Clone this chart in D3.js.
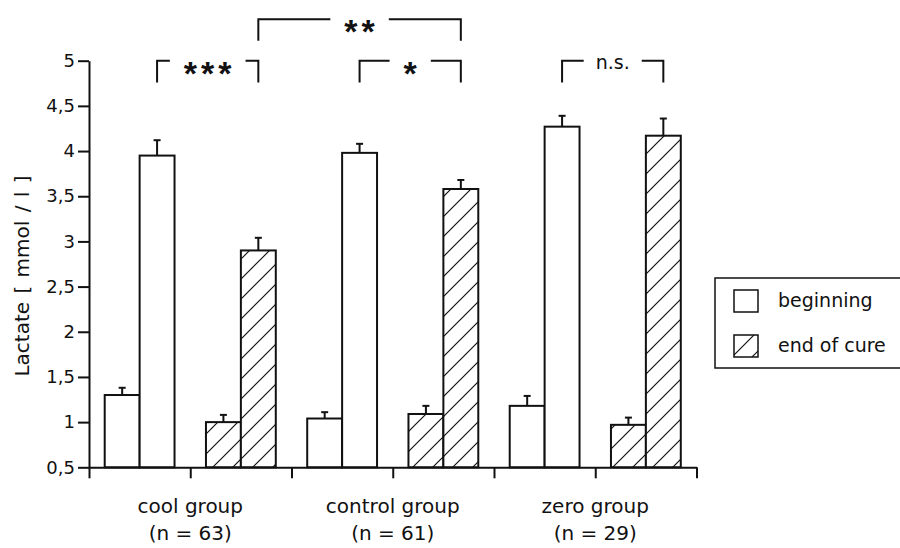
<!DOCTYPE html>
<html>
<head>
<meta charset="utf-8">
<script src="https://cdn.jsdelivr.net/npm/d3@7"></script>
<style>
  body { margin: 0; background: #fff; }
  svg text { font-family: "DejaVu Sans", sans-serif; fill: #111; }
</style>
</head>
<body>
<div id="chart"></div>
<script>
const groups = ["cool group", "control group", "zero group"];
const groupN = ["(n = 63)", "(n = 61)", "(n = 29)"];
const conditions = ["beginning", "end of cure"];
const phases = ["first", "second"];
// mean lactate (mmol/l) per group, [first bar, second bar]
const beginningMeans = [[1.30, 3.95], [1.04, 3.98], [1.18, 4.27]];
const beginningErrors = [[0.08, 0.17], [0.07, 0.10], [0.11, 0.12]];
const endMeans = [[1.00, 2.90], [1.09, 3.58], [0.97, 4.17]];
const endErrors = [[0.08, 0.14], [0.09, 0.10], [0.08, 0.19]];
const yTicks = [0.5, 1, 1.5, 2, 2.5, 3, 3.5, 4, 4.5, 5];
// significance brackets between second bars: [group, condition]
const sigFrom = [[0, 0], [1, 0], [2, 0], [0, 1]];
const sigTo = [[0, 1], [1, 1], [2, 1], [1, 1]];
const sigLabels = ["***", "*", "n.s.", "**"];
const sigLevel = [0, 0, 0, 1];

const PLOT = {left: 89, right: 696.5, top: 60.7, bottom: 467.3};
const BRACKET = [[5.0, 4.76], [5.46, 5.22]]; // [top, bottom] in y units
const INK = "#111";

const svg = d3.select("#chart").append("svg")
    .attr("width", 900)
    .attr("height", 548);

const pat = svg.append("defs").append("pattern")
    .attr("id", "hatch")
    .attr("patternUnits", "userSpaceOnUse")
    .attr("width", 20)
    .attr("height", 20);
pat.append("rect").attr("width", 20).attr("height", 20).attr("fill", "#fff");
pat.append("path")
    .attr("d", "M-5,5L5,-5M0,20L20,0M15,25L25,15")
    .attr("stroke", INK)
    .attr("stroke-width", 1.2);

const x0 = d3.scaleBand().domain(d3.range(groups.length)).range([PLOT.left, PLOT.right]);
const x1 = d3.scaleBand().domain(d3.range(conditions.length)).range([0, x0.bandwidth()]);
const x2 = d3.scaleBand().domain(d3.range(phases.length)).range([0, x1.bandwidth()]).paddingOuter(0.45);
const slot = d3.scaleLinear().domain([0, groups.length * conditions.length]).range([PLOT.left, PLOT.right]);
const y = d3.scaleLinear().domain([0.5, 5]).range([PLOT.bottom, PLOT.top]);

const records = [];
groups.forEach((_, g) => {
  [[beginningMeans, beginningErrors], [endMeans, endErrors]].forEach(([m, e], c) => {
    phases.forEach((_, p) => records.push({g, c, p, v: m[g][p], e: e[g][p]}));
  });
});
const barX = d => x0(d.g) + x1(d.c) + x2(d.p);
const barMid = (g, c, p) => x0(g) + x1(c) + x2(p) + x2.bandwidth() / 2;

// bars
svg.append("g").selectAll("rect").data(records).enter().append("rect")
    .attr("x", barX)
    .attr("y", d => y(d.v))
    .attr("width", x2.bandwidth())
    .attr("height", d => y(0.5) - y(d.v))
    .attr("fill", d => d.c === 0 ? "#fff" : "url(#hatch)")
    .attr("stroke", INK)
    .attr("stroke-width", 2);

// error bars (upper only)
const err = svg.append("g").attr("stroke", INK).attr("stroke-width", 2);
records.forEach(d => {
  const cx = barX(d) + x2.bandwidth() / 2;
  err.append("line").attr("x1", cx).attr("x2", cx).attr("y1", y(d.v)).attr("y2", y(d.v + d.e));
  err.append("line").attr("x1", cx - 3.5).attr("x2", cx + 3.5).attr("y1", y(d.v + d.e)).attr("y2", y(d.v + d.e));
});

// axes
svg.append("g")
    .attr("transform", `translate(${PLOT.left},0)`)
    .call(d3.axisLeft(y).tickValues(yTicks)
      .tickFormat(d => String(d).replace(".", ","))
      .tickSizeInner(11).tickSizeOuter(0).tickPadding(3))
    .attr("font-size", 18)
    .attr("font-family", "DejaVu Sans")
    .call(g => g.selectAll("path, line").attr("stroke", INK).attr("stroke-width", 2));

svg.append("g")
    .attr("transform", `translate(0,${PLOT.bottom})`)
    .call(d3.axisBottom(slot).tickValues(d3.range(groups.length * conditions.length + 1))
      .tickFormat("").tickSizeInner(11).tickSizeOuter(0))
    .call(g => g.selectAll("path, line").attr("stroke", INK).attr("stroke-width", 2));

// group labels
const lab = svg.append("g").attr("text-anchor", "middle").attr("font-size", 20);
groups.forEach((name, g) => {
  const cx = x0(g) + x0.bandwidth() / 2;
  lab.append("text").attr("x", cx).attr("y", 512.5).text(name);
  lab.append("text").attr("x", cx).attr("y", 540).text(groupN[g]);
});

svg.append("text")
    .attr("transform", "translate(29,276) rotate(-90)")
    .attr("text-anchor", "middle")
    .attr("font-size", 20)
    .style("word-spacing", "2px")
    .text("Lactate [ mmol / l ]");

// significance brackets
const sig = svg.append("g");
sigLabels.forEach((label, i) => {
  const xa = barMid(sigFrom[i][0], sigFrom[i][1], 1);
  const xb = barMid(sigTo[i][0], sigTo[i][1], 1);
  const [top, bot] = BRACKET[sigLevel[i]].map(y);
  const mid = (xa + xb) / 2;
  const stars = label.startsWith("*");
  const t = sig.append("text")
      .attr("x", mid)
      .attr("text-anchor", "middle")
      .text(label);
  if (stars) {
    t.attr("y", top + 24)
     .style("font-family", "Liberation Sans, Arial, sans-serif")
     .attr("font-weight", "bold")
     .attr("font-size", 34)
     .style("letter-spacing", "4px")
     .attr("dx", 2);
  } else {
    t.attr("y", top + 8).attr("font-size", 19);
  }
  const half = t.node().getComputedTextLength() / 2 + 12;
  sig.append("path")
      .attr("d", `M${xa},${bot}V${top}H${mid - half}M${mid + half},${top}H${xb}V${bot}`)
      .attr("fill", "none")
      .attr("stroke", INK)
      .attr("stroke-width", 2);
});

// legend
const leg = svg.append("g");
leg.append("rect")
    .attr("x", 715).attr("y", 278)
    .attr("width", 200).attr("height", 90)
    .attr("fill", "none")
    .attr("stroke", INK)
    .attr("stroke-width", 1.5);
conditions.forEach((name, c) => {
  const row = leg.append("g").attr("transform", `translate(734,${290 + c * 45})`);
  row.append("rect")
      .attr("width", 24).attr("height", 22)
      .attr("fill", c === 0 ? "#fff" : "url(#hatch)")
      .attr("stroke", INK)
      .attr("stroke-width", 1.5);
  row.append("text").attr("x", 44).attr("y", 17).attr("font-size", 19).text(name);
});
</script>
</body>
</html>
